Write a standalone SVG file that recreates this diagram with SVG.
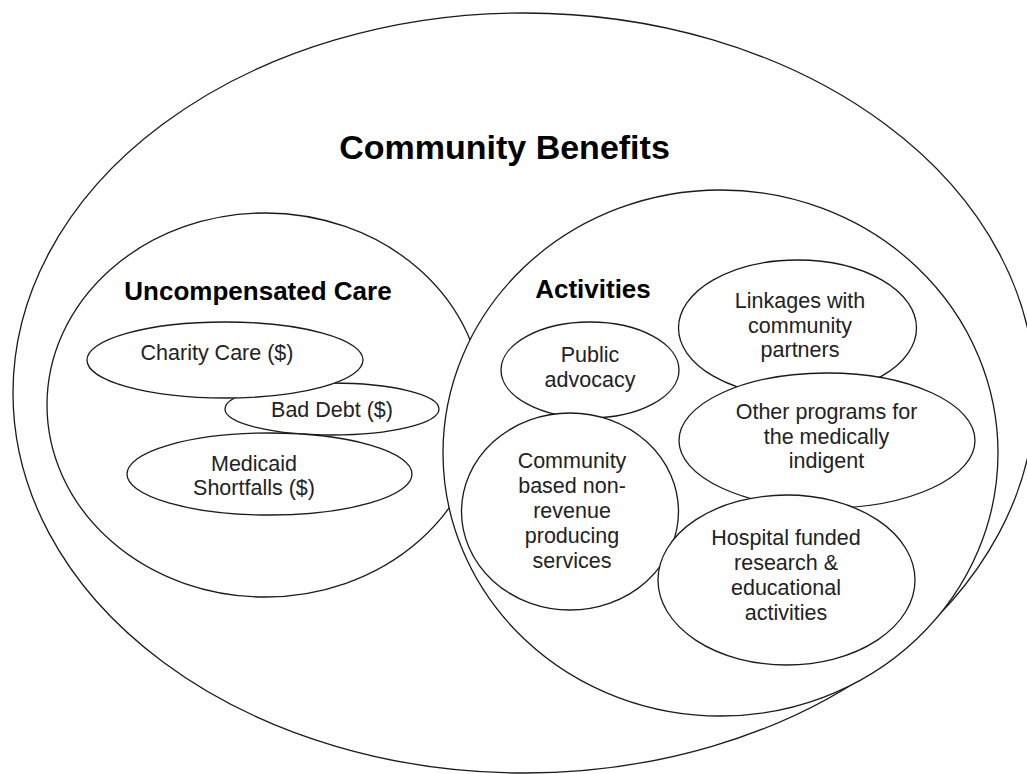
<svg xmlns="http://www.w3.org/2000/svg" width="1027" height="774" viewBox="0 0 1027 774">
<style>
.shape{fill:#fff;stroke:#1a1a1a;stroke-width:1.3}
.t{font-family:"Liberation Sans",Arial,sans-serif;font-size:21.5px;fill:#222;text-anchor:middle}
.h{font-family:"Liberation Sans",Arial,sans-serif;font-weight:bold;fill:#000;text-anchor:middle}
</style>
<rect width="1027" height="774" fill="#fff"/>
<g id="community-benefits">
<ellipse class="shape" cx="524" cy="393" rx="511" ry="380"/>
<text class="h" x="504.5" y="159" font-size="34">Community Benefits</text>
</g>
<g id="uncompensated-care">
<ellipse class="shape" cx="265" cy="405" rx="218" ry="192"/>
<text class="h" x="258" y="300" font-size="26">Uncompensated Care</text>
</g>
<g id="activities">
<ellipse class="shape" cx="720.5" cy="453" rx="277.5" ry="263"/>
<text class="h" x="593" y="298" font-size="26">Activities</text>
</g>
<g id="bad-debt">
<ellipse class="shape" cx="332" cy="409" rx="107" ry="26"/>
<text class="t" x="332" y="417">Bad Debt ($)</text>
</g>
<g id="charity-care">
<ellipse class="shape" cx="225" cy="360" rx="138" ry="38"/>
<text class="t" x="217" y="360">Charity Care ($)</text>
</g>
<g id="medicaid-shortfalls">
<ellipse class="shape" cx="269.5" cy="474" rx="142.5" ry="41"/>
<text class="t" x="254" y="471">Medicaid</text>
<text class="t" x="254" y="495">Shortfalls ($)</text>
</g>
<g id="linkages">
<ellipse class="shape" cx="797.5" cy="328" rx="119" ry="68"/>
<text class="t" x="800" y="308">Linkages with</text>
<text class="t" x="800" y="333">community</text>
<text class="t" x="800" y="357">partners</text>
</g>
<g id="public-advocacy">
<ellipse class="shape" cx="590" cy="370" rx="89" ry="48"/>
<text class="t" x="590" y="362">Public</text>
<text class="t" x="590" y="387">advocacy</text>
</g>
<g id="other-programs">
<ellipse class="shape" cx="827" cy="440.5" rx="148" ry="67.5"/>
<text class="t" x="826.5" y="419">Other programs for</text>
<text class="t" x="826.5" y="444">the medically</text>
<text class="t" x="826.5" y="468">indigent</text>
</g>
<g id="community-based">
<ellipse class="shape" cx="570" cy="511.5" rx="108.5" ry="98.5"/>
<text class="t" x="572" y="468">Community</text>
<text class="t" x="572" y="493">based non-</text>
<text class="t" x="572" y="518">revenue</text>
<text class="t" x="572" y="543">producing</text>
<text class="t" x="572" y="568">services</text>
</g>
<g id="hospital-funded">
<ellipse class="shape" cx="786.5" cy="580" rx="128.5" ry="85"/>
<text class="t" x="786" y="545">Hospital funded</text>
<text class="t" x="786" y="570">research &amp;</text>
<text class="t" x="786" y="595">educational</text>
<text class="t" x="786" y="620">activities</text>
</g>
<g id="connectors"></g>
</svg>
